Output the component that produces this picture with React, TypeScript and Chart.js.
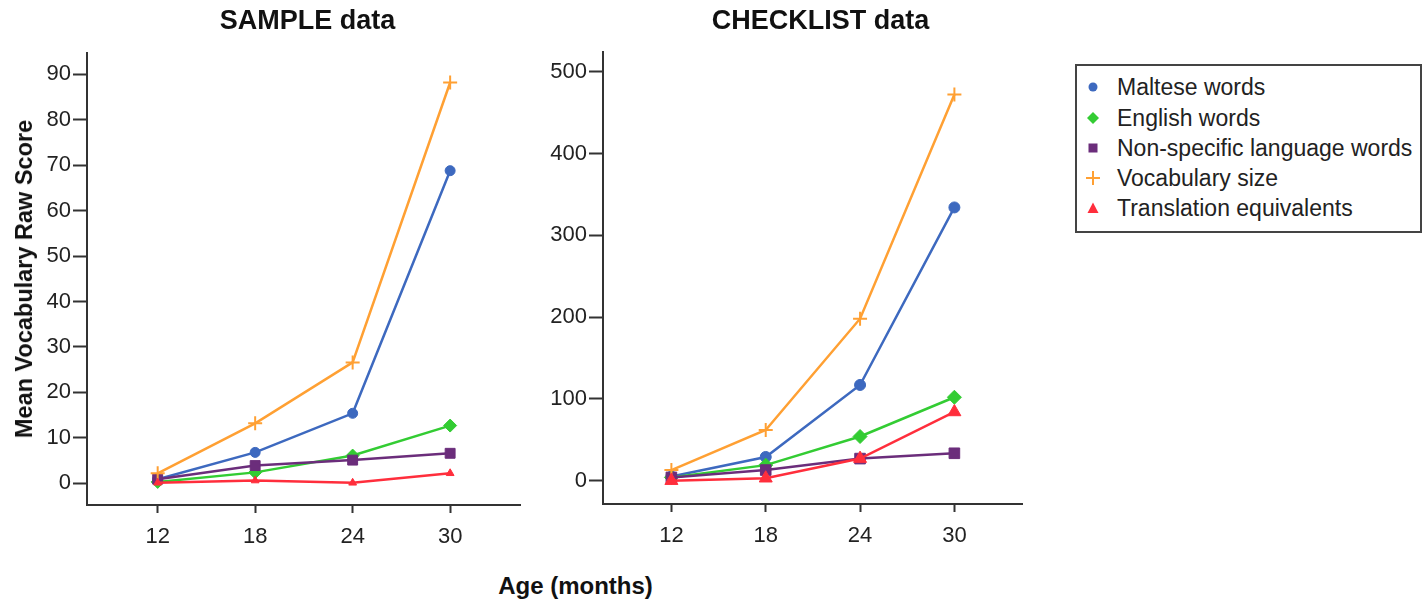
import React, { useEffect, useRef } from 'react';
import { Chart, registerables } from 'chart.js';
Chart.register(...registerables);

const ages = [12, 18, 24, 30];
const xTicks = [12, 18, 24, 30];
const sampleYTicks = [0, 10, 20, 30, 40, 50, 60, 70, 80, 90];
const checklistYTicks = [0, 100, 200, 300, 400, 500];

const seriesNames = [
  'Maltese words',
  'English words',
  'Non-specific language words',
  'Vocabulary size',
  'Translation equivalents',
];

const sampleMaltese = [0.9, 6.8, 15.4, 68.8];
const sampleEnglish = [0.3, 2.4, 6.1, 12.7];
const sampleNonSpecific = [0.9, 3.9, 5.1, 6.6];
const sampleVocabulary = [2.2, 13.2, 26.6, 88.2];
const sampleTranslation = [0.1, 0.6, 0.1, 2.2];

const checklistMaltese = [5, 29, 117, 334];
const checklistEnglish = [4, 19, 54, 102];
const checklistNonSpecific = [4, 13, 27, 33.5];
const checklistVocabulary = [13, 62, 198, 472];
const checklistTranslation = [0, 3, 27, 84];

const colors = ['#3d69bf', '#33cc33', '#6b2d7b', '#ffa033', '#ff2e3c'];
const pointStyles = ['circle', 'rectRot', 'rect', 'cross', 'triangle'];

const FONT = '"Liberation Sans", Arial, Helvetica, sans-serif';

type ChartProps = {
  series: number[][];
  yMin: number;
  yMax: number;
  yTicks: number[];
  yAxisWidth: number;
  xAxisHeight: number;
  padTop: number;
  padRight: number;
  radii: number[];
  width: number;
  height: number;
  left: number;
};

function LineChart(p: ChartProps) {
  const ref = useRef<HTMLCanvasElement | null>(null);
  useEffect(() => {
    if (!ref.current) return;
    const datasets = p.series.map((vals, i) => ({
      label: seriesNames[i],
      data: ages.map((a, j) => ({ x: a, y: vals[j] })),
      borderColor: colors[i],
      backgroundColor: colors[i],
      pointBackgroundColor: colors[i],
      pointBorderColor: colors[i],
      pointStyle: pointStyles[i] as any,
      pointRadius: p.radii[i],
      pointBorderWidth: pointStyles[i] === 'cross' ? 2 : 1,
      borderWidth: 2.5,
      tension: 0,
      order: seriesNames.length - 1 - i,
    }));
    const chart = new Chart(ref.current, {
      type: 'line',
      data: { datasets },
      options: {
        animation: false,
        responsive: false,
        maintainAspectRatio: false,
        layout: { padding: { left: 0, top: p.padTop, right: p.padRight, bottom: 0 } },
        plugins: { legend: { display: false }, tooltip: { enabled: false }, title: { display: false } },
        scales: {
          x: {
            type: 'linear',
            min: 7.65,
            max: 34.3,
            afterBuildTicks: (s: any) => {
              s.ticks = xTicks.map((v) => ({ value: v }));
            },
            afterFit: (s: any) => {
              s.height = p.xAxisHeight;
            },
            grid: {
              drawOnChartArea: false,
              drawTicks: true,
              tickLength: 8,
              tickWidth: 2,
              tickColor: '#333',
            },
            border: { display: true, color: '#333', width: 2 },
            ticks: {
              color: '#222',
              font: { family: FONT, size: 22 },
              padding: 11,
              maxRotation: 0,
              autoSkip: false,
              callback: (v: any) => String(v),
            },
          },
          y: {
            type: 'linear',
            min: p.yMin,
            max: p.yMax,
            afterBuildTicks: (s: any) => {
              s.ticks = p.yTicks.map((v) => ({ value: v }));
            },
            afterFit: (s: any) => {
              s.width = p.yAxisWidth;
            },
            grid: {
              drawOnChartArea: false,
              drawTicks: true,
              tickLength: 14,
              tickWidth: 2,
              tickColor: '#333',
            },
            border: { display: true, color: '#333', width: 2 },
            ticks: {
              color: '#222',
              font: { family: FONT, size: 22 },
              padding: 2,
              autoSkip: false,
              callback: (v: any) => String(v),
            },
          },
        },
      },
    });
    return () => chart.destroy();
  }, []);
  return (
    <canvas
      ref={ref}
      width={p.width}
      height={p.height}
      style={{ position: 'absolute', left: p.left, top: 0, width: p.width, height: p.height }}
    />
  );
}

function Marker({ style, color }: { style: string; color: string }) {
  const s = 18;
  const c = s / 2;
  let shape: any = null;
  if (style === 'circle') shape = <circle cx={c} cy={c} r={4.5} fill={color} />;
  else if (style === 'rectRot')
    shape = <polygon points={`${c - 6},${c} ${c},${c - 6} ${c + 6},${c} ${c},${c + 6}`} fill={color} />;
  else if (style === 'rect') shape = <rect x={c - 4.5} y={c - 4.5} width={9} height={9} fill={color} />;
  else if (style === 'cross')
    shape = (
      <g stroke={color} strokeWidth={2}>
        <line x1={c - 7} y1={c} x2={c + 7} y2={c} />
        <line x1={c} y1={c - 7} x2={c} y2={c + 7} />
      </g>
    );
  else shape = <polygon points={`${c - 5.5},${c + 5} ${c + 5.5},${c + 5} ${c},${c - 5.5}`} fill={color} />;
  return (
    <svg width={s} height={s} style={{ position: 'absolute', left: 1093 - c, top: -c }}>
      {shape}
    </svg>
  );
}

export default function App() {
  const legendY = [87, 118, 148, 178, 208];
  return (
    <div
      style={{
        position: 'fixed',
        left: 0,
        top: 0,
        width: 1423,
        height: 600,
        background: '#fff',
        overflow: 'hidden',
        fontFamily: FONT,
        color: '#111',
      }}
    >
      <LineChart
        series={[sampleMaltese, sampleEnglish, sampleNonSpecific, sampleVocabulary, sampleTranslation]}
        yMin={-4.78}
        yMax={94.7}
        yTicks={sampleYTicks}
        yAxisWidth={87}
        xAxisHeight={55}
        padTop={53}
        padRight={20}
        radii={[5, 6.5, 7, 7, 4.5]}
        width={540}
        height={560}
        left={0}
      />
      <LineChart
        series={[checklistMaltese, checklistEnglish, checklistNonSpecific, checklistVocabulary, checklistTranslation]}
        yMin={-28.5}
        yMax={524}
        yTicks={checklistYTicks}
        yAxisWidth={63}
        xAxisHeight={56}
        padTop={52}
        padRight={18}
        radii={[5.5, 7, 7.5, 7, 7.5]}
        width={500}
        height={560}
        left={540}
      />
      <div
        style={{
          position: 'absolute',
          left: 307.5,
          top: 7,
          transform: 'translateX(-50%)',
          fontWeight: 'bold',
          fontSize: 27,
          lineHeight: '27px',
          whiteSpace: 'nowrap',
        }}
      >
        SAMPLE data
      </div>
      <div
        style={{
          position: 'absolute',
          left: 820.5,
          top: 7,
          transform: 'translateX(-50%)',
          fontWeight: 'bold',
          fontSize: 27,
          lineHeight: '27px',
          whiteSpace: 'nowrap',
        }}
      >
        CHECKLIST data
      </div>
      <div
        style={{
          position: 'absolute',
          left: 24,
          top: 279,
          transform: 'translate(-50%, -50%) rotate(-90deg)',
          fontWeight: 'bold',
          fontSize: 23.5,
          lineHeight: '24px',
          whiteSpace: 'nowrap',
        }}
      >
        Mean Vocabulary Raw Score
      </div>
      <div
        style={{
          position: 'absolute',
          left: 575.5,
          top: 586,
          transform: 'translate(-50%, -50%)',
          fontWeight: 'bold',
          fontSize: 24,
          lineHeight: '24px',
          whiteSpace: 'nowrap',
        }}
      >
        Age (months)
      </div>
      <div
        style={{
          position: 'absolute',
          left: 1075,
          top: 64,
          width: 343,
          height: 165,
          border: '2px solid #444',
        }}
      />
      {seriesNames.map((name, i) => (
        <div key={name} style={{ position: 'absolute', left: 0, top: legendY[i], width: 1423, height: 0 }}>
          <Marker style={pointStyles[i]} color={colors[i]} />
          <div
            style={{
              position: 'absolute',
              left: 1117,
              top: 0,
              transform: 'translateY(-50%)',
              fontSize: 23,
              lineHeight: '24px',
              whiteSpace: 'nowrap',
              color: '#222',
            }}
          >
            {name}
          </div>
        </div>
      ))}
    </div>
  );
}
